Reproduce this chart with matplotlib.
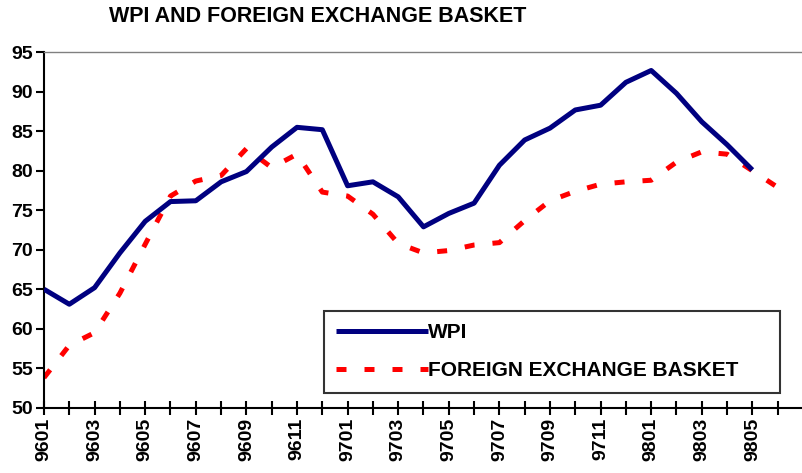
import numpy as np
import matplotlib.pyplot as plt

months = ['9601', '9602', '9603', '9604', '9605', '9606', '9607', '9608', '9609', '9610',
          '9611', '9612', '9701', '9702', '9703', '9704', '9705', '9706', '9707', '9708',
          '9709', '9710', '9711', '9712', '9801', '9802', '9803', '9804', '9805', '9806']

wpi = [65.0, 63.1, 65.2, 69.6, 73.6, 76.1, 76.2, 78.6, 79.9, 83.0,
       85.5, 85.2, 78.1, 78.6, 76.7, 72.9, 74.6, 75.9, 80.7, 83.9,
       85.4, 87.7, 88.3, 91.2, 92.7, 89.8, 86.2, 83.3, 80.1]

fx_basket = [53.8, 57.9, 59.5, 64.5, 70.7, 76.8, 78.7, 79.4, 82.8, 80.4,
             82.1, 77.3, 76.8, 74.5, 70.8, 69.6, 69.9, 70.6, 70.9, 73.7,
             76.2, 77.4, 78.3, 78.6, 78.8, 81.1, 82.4, 82.1, 80.0, 77.9]

bold_font = ['Liberation Sans', 'DejaVu Sans']

fig = plt.figure(figsize=(8.03, 4.73), dpi=100)
ax = fig.add_axes([44/803, 1 - 407.7/473, 1 - 44/803, (407.7 - 52.3)/473])

ax.plot(range(len(wpi)), wpi, color='#000080', lw=3.6, label='WPI',
        solid_capstyle='butt', zorder=3)
ax.plot(range(len(fx_basket)), fx_basket, color='#ff0000', lw=3.6,
        linestyle=(0, (2.0, 3.6)), dash_capstyle='butt',
        label='FOREIGN EXCHANGE BASKET', zorder=2)

ax.set_xlim(0, 30)
ax.set_ylim(50, 95)
ax.set_yticks(np.arange(50, 96, 5))
ax.set_yticklabels([str(v) for v in range(50, 96, 5)], fontfamily=bold_font,
                   fontweight='bold', fontsize=14)
ax.set_xticks(range(len(months)))
ax.set_xticklabels([m if i % 2 == 0 else '' for i, m in enumerate(months)],
                   rotation=90, fontfamily=bold_font, fontweight='bold', fontsize=14)

ax.tick_params(axis='y', direction='out', length=6, width=1.5, pad=2)
ax.tick_params(axis='x', direction='inout', length=10, width=1.5, pad=2)

for s in ['left', 'bottom']:
    ax.spines[s].set_color('black')
    ax.spines[s].set_linewidth(1.5)
for s in ['top', 'right']:
    ax.spines[s].set_color('#808080')
    ax.spines[s].set_linewidth(1.0)

fig.text(318/803, 1 - 16/473, 'WPI AND FOREIGN EXCHANGE BASKET', ha='center', va='center',
         fontfamily=bold_font, fontweight='bold', fontsize=15.5)

leg = ax.legend(loc='upper left', bbox_to_anchor=(324/803, 1 - 316/473, 456/803, 5/473),
                bbox_transform=fig.transFigure, mode='expand', frameon=True, fancybox=False,
                handlelength=4.4, handletextpad=0.0, labelspacing=0.9,
                borderpad=0.6, borderaxespad=0,
                prop={'family': bold_font, 'weight': 'bold', 'size': 15})
leg.get_frame().set_edgecolor('black')
leg.get_frame().set_linewidth(1.5)

fig.savefig('out.png', dpi=100)
